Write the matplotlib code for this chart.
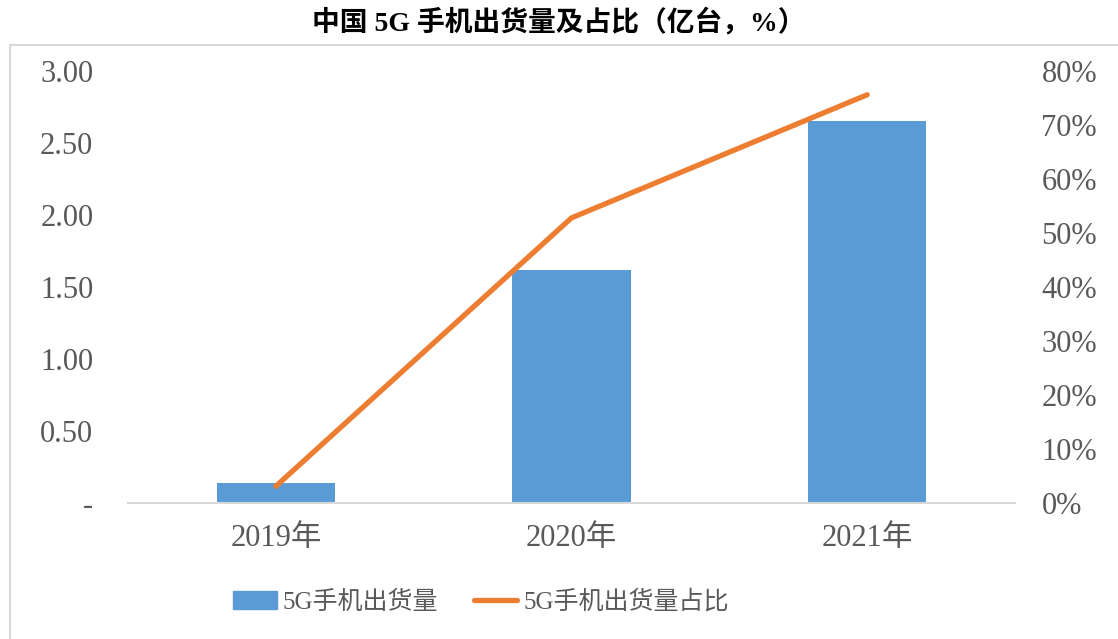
import matplotlib
matplotlib.use('Agg')
import matplotlib.pyplot as plt
from matplotlib.patches import Rectangle
from matplotlib.lines import Line2D

plt.rcParams['font.family'] = ['Liberation Serif', 'Noto Sans CJK SC']

years = ['2019年', '2020年', '2021年']
shipments = [0.138, 1.62, 2.65]       # 亿台
share = [3.1, 52.8, 75.6]             # %
left_ticks = [0, 0.5, 1.0, 1.5, 2.0, 2.5, 3.0]
right_ticks = [0, 10, 20, 30, 40, 50, 60, 70, 80]

blue = '#5B9BD5'
orange = '#ED7D31'
gray = '#595959'

fig = plt.figure(figsize=(11.18, 6.39), dpi=100)
# outer frame
fig.patches.append(Rectangle((10 / 1118, -0.1), 1.2, 1 - 45 / 639 + 0.1,
                             transform=fig.transFigure, fill=False,
                             edgecolor='#D9D9D9', linewidth=1.5))
fig.text(0.5, 1 - 22 / 639, '中国 5G 手机出货量及占比（亿台，%）', ha='center', va='center',
         fontsize=20, fontweight='bold', color='black')

ax = fig.add_axes([128 / 1118, 1 - 503 / 639, (1015 - 128) / 1118, (503 - 71) / 639])
x = list(range(len(years)))
ax.bar(x, shipments, width=0.4, color=blue, zorder=2)
ax.set_xlim(-0.5, 2.5)
ax.set_ylim(0, 3.0)
ax.set_yticks(left_ticks)
ax.set_yticklabels(['-' if v == 0 else '%.2f' % v for v in left_ticks])
ax.set_xticks(x)
ax.set_xticklabels(years)
for s in ['top', 'left', 'right']:
    ax.spines[s].set_visible(False)
ax.spines['bottom'].set_color('#D9D9D9')
ax.spines['bottom'].set_linewidth(1.5)
ax.tick_params(axis='both', length=0, labelsize=22, colors=gray)
ax.tick_params(axis='y', pad=25)
ax.tick_params(axis='x', pad=15)

ax2 = ax.twinx()
ax2.plot(x, share, color=orange, linewidth=3.8, solid_capstyle='round', zorder=3)
ax2.set_ylim(0, 80)
ax2.set_yticks(right_ticks)
ax2.set_yticklabels(['%d%%' % v for v in right_ticks])
for s in ['top', 'left', 'right', 'bottom']:
    ax2.spines[s].set_visible(False)
ax2.tick_params(axis='y', length=0, labelsize=22, colors=gray, pad=19)

handles = [Rectangle((0, 0), 1, 1, color=blue),
           Line2D([0], [0], color=orange, linewidth=3.8, solid_capstyle='round')]
fig.legend(handles, ['5G手机出货量', '5G手机出货量占比'], loc='center left',
           bbox_to_anchor=(233 / 1118, 1 - 602 / 639), ncol=2, frameon=False,
           fontsize=18, labelcolor=gray, handlelength=1.75, handletextpad=0.25,
           columnspacing=1.4, borderpad=0, borderaxespad=0)

fig.savefig('out.png', dpi=100)
